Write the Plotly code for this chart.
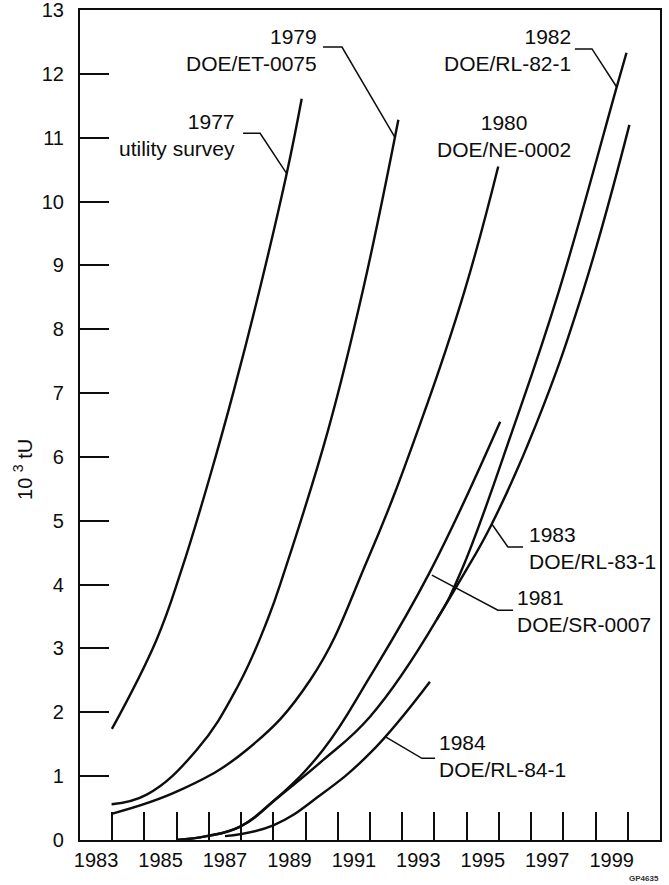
import plotly.graph_objects as go

# ---------------- data ----------------
years_1977 = [1983.99, 1985.37, 1986.15, 1987.03, 1987.78, 1988.57, 1989.42, 1989.88]
vals_1977 = [1.74, 3.13, 4.23, 5.69, 7.05, 8.61, 10.45, 11.61]

years_1979 = [1983.98, 1985.07, 1986.62, 1987.89, 1988.82, 1989.36, 1990.70, 1991.78, 1992.88]
vals_1979 = [0.56, 0.71, 1.41, 2.40, 3.45, 4.23, 6.42, 8.61, 11.28]

years_1980 = [1983.98, 1986.10, 1988.17, 1990.15, 1991.95, 1993.60, 1994.94, 1995.98]
vals_1980 = [0.41, 0.78, 1.41, 2.51, 4.42, 6.58, 8.61, 10.55]

years_1981 = [1986.00, 1986.93, 1987.97, 1989.10, 1990.54, 1992.00, 1993.86, 1996.04]
vals_1981 = [0.00, 0.06, 0.21, 0.65, 1.41, 2.56, 4.20, 6.55]

years_1982 = [1986.00, 1986.93, 1987.97, 1989.10, 1990.54, 1992.00, 1994.07, 1994.82,
              1996.50, 1997.87, 1999.66, 1999.96]
vals_1982 = [0.00, 0.06, 0.21, 0.65, 1.25, 1.93, 3.45, 4.20, 6.53, 8.61, 11.80, 12.33]

years_1983 = [1994.07, 1994.86, 1995.76, 1997.17, 1998.62, 2000.05]
vals_1983 = [3.45, 4.12, 4.93, 6.53, 8.61, 11.20]

years_1984 = [1987.50, 1989.00, 1990.45, 1992.00, 1993.86]
vals_1984 = [0.06, 0.23, 0.70, 1.36, 2.48]

x_tick_years = list(range(1984, 2001))
x_label_years = list(range(1983, 2000, 2))
y_ticks = list(range(0, 14))

series = [
    (years_1977, vals_1977), (years_1979, vals_1979), (years_1980, vals_1980),
    (years_1981, vals_1981), (years_1982, vals_1982), (years_1983, vals_1983),
    (years_1984, vals_1984),
]

# label text, anchor (x, y), horizontal anchor, alignment
labels = [
    ("1977<br>utility survey", 1987.87, 11.04, "right", "right"),
    ("1979<br>DOE/ET-0075", 1990.42, 12.37, "right", "right"),
    ("1982<br>DOE/RL-82-1", 1998.30, 12.37, "right", "right"),
    ("1980<br>DOE/NE-0002", 1996.16, 11.03, "center", "center"),
    ("1983<br>DOE/RL-83-1", 1996.87, 4.58, "left", "left"),
    ("1981<br>DOE/SR-0007", 1996.50, 3.59, "left", "left"),
    ("1984<br>DOE/RL-84-1", 1994.08, 1.31, "left", "left"),
]

# leader lines (label elbow -> curve)
leaders = [
    ([1988.06, 1988.59, 1989.40], [11.07, 11.07, 10.45]),
    ([1990.54, 1991.13, 1992.77], [12.42, 12.42, 11.01]),
    ([1998.36, 1998.89, 1999.66], [12.39, 12.39, 11.79]),
    ([1996.75, 1996.28, 1995.78], [4.59, 4.59, 4.95]),
    ([1996.44, 1995.97, 1993.92], [3.60, 3.60, 4.15]),
    ([1994.02, 1993.61, 1992.47], [1.28, 1.28, 1.62]),
]

FONT = "Liberation Sans, Arial, Helvetica, sans-serif"
INK = "#0d0d0d"

fig = go.Figure()
for xs, ys in series:
    fig.add_trace(go.Scatter(x=xs, y=ys, mode="lines",
                             line=dict(color=INK, width=2.4, shape="spline", smoothing=1.2),
                             hoverinfo="skip", showlegend=False))

for xs, ys in leaders:
    fig.add_trace(go.Scatter(x=xs, y=ys, mode="lines",
                             line=dict(color=INK, width=1.5),
                             hoverinfo="skip", showlegend=False))

# invisible trace for the label axis
fig.add_trace(go.Scatter(x=[1983, 2001], y=[0, 0], xaxis="x2", mode="lines",
                         line=dict(width=0), hoverinfo="skip", showlegend=False))

for text, x, y, xa, al in labels:
    fig.add_annotation(x=x, y=y, text=text, xanchor=xa, yanchor="middle", align=al,
                       showarrow=False, font=dict(family=FONT, size=21, color=INK))

# y-axis title
fig.add_annotation(xref="paper", yref="paper", x=-0.098, y=0.446, text="10 <sup>3</sup> tU",
                   textangle=-90, showarrow=False, xanchor="center", yanchor="middle",
                   font=dict(family=FONT, size=20, color=INK))

fig.add_annotation(xref="paper", yref="paper", x=0.972, y=-0.046, text="<b>GP4635</b>",
                   showarrow=False, xanchor="center", yanchor="middle",
                   font=dict(family=FONT, size=8, color="#333333"))

fig.update_layout(
    width=669, height=885,
    margin=dict(l=80, r=9, t=10, b=45),
    paper_bgcolor="white", plot_bgcolor="white",
    font=dict(family=FONT, size=20, color=INK),
    xaxis=dict(range=[1983, 2001], tickvals=x_tick_years, showticklabels=False,
               ticks="inside", ticklen=28, tickwidth=1.8, tickcolor=INK,
               showline=True, linewidth=2.2, linecolor=INK, mirror=True,
               showgrid=False, zeroline=False, automargin=False),
    xaxis2=dict(range=[1983, 2001], overlaying="x", side="bottom", anchor="y",
                tickvals=[y + 0.5 for y in x_label_years],
                ticktext=[str(y) for y in x_label_years],
                ticks="", showline=False, showgrid=False, zeroline=False,
                ticklabelstandoff=6, automargin=False, ticklabeloverflow="allow",
                tickfont=dict(family=FONT, size=20, color=INK)),
    yaxis=dict(range=[0, 13], tickvals=y_ticks, ticktext=[str(v) for v in y_ticks],
               ticks="inside", ticklen=29, tickwidth=1.8, tickcolor=INK,
               showline=True, linewidth=2.2, linecolor=INK, mirror=True,
               showgrid=False, zeroline=False, ticklabelstandoff=10, automargin=False,
               ticklabeloverflow="allow",
               tickfont=dict(family=FONT, size=20, color=INK)),
)

fig.write_html("out.html", config={"displayModeBar": False},
               post_script="document.body.style.margin='0';document.body.style.padding='0';")
